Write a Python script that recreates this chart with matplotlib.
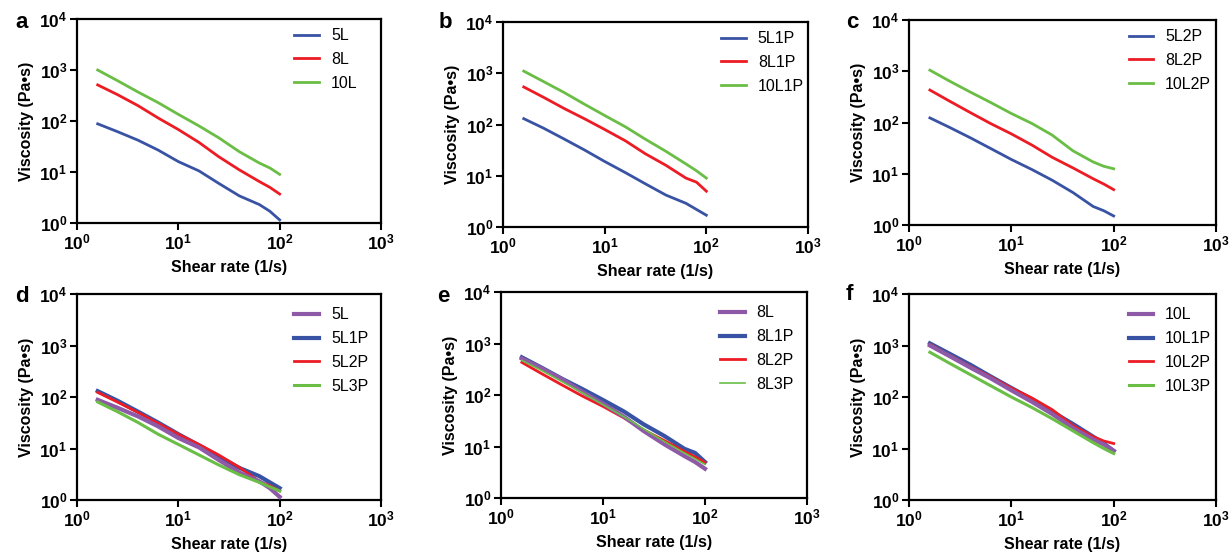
import matplotlib
matplotlib.use('Agg')
import matplotlib.pyplot as plt
from matplotlib.ticker import LogLocator, NullLocator


SHEAR = [1.6, 2.5, 4, 6.3, 10, 16, 25, 40, 63, 80, 100]

# viscosity (Pa.s)
V_5L = [88, 62, 42, 27, 16, 10.5, 6, 3.4, 2.3, 1.7, 1.15]
V_8L = [510, 330, 200, 115, 68, 38, 20, 11, 6.5, 5, 3.7]
V_10L = [1000, 620, 370, 230, 135, 80, 47, 25, 15, 12, 9]

V_5L1P = [130, 85, 52, 32, 19, 11.5, 7, 4.2, 2.9, 2.2, 1.7]
V_8L1P = [540, 340, 205, 130, 80, 48, 27, 16, 9, 7.5, 5]
V_10L1P = [1100, 690, 420, 250, 150, 90, 52, 30, 17, 12.5, 9]

V_5L2P = [123, 80, 50, 31, 19, 12, 7.5, 4.3, 2.3, 1.9, 1.5]
V_8L2P = [430, 260, 155, 95, 60, 36, 21, 13, 8, 6.3, 4.9]
V_10L2P = [1050, 640, 390, 245, 150, 95, 57, 28, 17, 14, 12.5]

V_5L3P = [80, 52, 32, 19, 12, 7.5, 4.8, 3.1, 2.2, 1.8, 1.5]
V_8L3P = [470, 300, 180, 110, 65, 38, 22, 12.5, 7.5, 5.8, 4.5]
V_10L3P = [740, 450, 270, 165, 100, 62, 38, 22, 13, 10, 8]

BLUE = '#3953a4'
RED = '#ed1c24'
GREEN = '#6abd45'
PURPLE = '#8e5aa8'

W, H = 1229, 552

plt.rcParams['font.family'] = ['Liberation Sans', 'DejaVu Sans']
plt.rcParams['font.weight'] = 'bold'
plt.rcParams['axes.labelweight'] = 'bold'


def px_box(left, top, right, bottom):
    return [left / W, (H - bottom) / H, (right - left) / W, (bottom - top) / H]


def style_axes(ax):
    ax.set_xscale('log')
    ax.set_yscale('log')
    ax.set_xlim(1, 1000)
    ax.set_ylim(1, 10000)
    ax.xaxis.set_major_locator(LogLocator(base=10, numticks=10))
    ax.yaxis.set_major_locator(LogLocator(base=10, numticks=10))
    ax.xaxis.set_minor_locator(NullLocator())
    ax.yaxis.set_minor_locator(NullLocator())
    for s in ax.spines.values():
        s.set_linewidth(1.6)
    ax.tick_params(direction='out', length=5, width=1.5, labelsize=12.5, pad=2)
    for lbl in ax.get_xticklabels() + ax.get_yticklabels():
        lbl.set_fontweight('bold')
    ax.set_xlabel('Shear rate (1/s)', fontsize=11.5, labelpad=5)
    ax.set_ylabel('Viscosity (Pa•s)', fontsize=11.5, labelpad=4)


def add_legend(ax, top=0.955):
    ax.legend(loc='upper left', bbox_to_anchor=(0.715, top), frameon=False,
              borderpad=0, borderaxespad=0, handlelength=1.55,
              handletextpad=0.75, labelspacing=0.55,
              prop={'size': 11.5, 'weight': 'normal'})


fig = plt.figure(figsize=(W / 100, H / 100), dpi=100)

# top row: concentration series
top_panels = [
    ('a', px_box(77, 19, 381, 223), (22, 23),
     [('5L', V_5L), ('8L', V_8L), ('10L', V_10L)]),
    ('b', px_box(503, 22, 808, 227), (445, 22),
     [('5L1P', V_5L1P), ('8L1P', V_8L1P), ('10L1P', V_10L1P)]),
    ('c', px_box(909, 20, 1216, 225), (852, 22),
     [('5L2P', V_5L2P), ('8L2P', V_8L2P), ('10L2P', V_10L2P)]),
]

for letter, box, lpos, series in top_panels:
    ax = fig.add_axes(box)
    for (name, vals), c in zip(series, [BLUE, RED, GREEN]):
        ax.plot(SHEAR, vals, color=c, lw=2.0, label=name)
    style_axes(ax)
    add_legend(ax)
    fig.text(lpos[0] / W, 1 - lpos[1] / H, letter, fontsize=16,
             fontweight='bold', ha='center', va='center')

# bottom row: P content series
bottom_panels = [
    ('d', px_box(77, 294, 381, 500), (22, 296),
     [('5L', V_5L), ('5L1P', V_5L1P), ('5L2P', V_5L2P), ('5L3P', V_5L3P)], 2.2),
    ('e', px_box(501, 292, 807, 498), (443, 296),
     [('8L', V_8L), ('8L1P', V_8L1P), ('8L2P', V_8L2P), ('8L3P', V_8L3P)], 1.2),
    ('f', px_box(909, 294, 1216, 500), (849, 294),
     [('10L', V_10L), ('10L1P', V_10L1P), ('10L2P', V_10L2P), ('10L3P', V_10L3P)], 2.2),
]

for letter, box, lpos, series, green_lw in bottom_panels:
    ax = fig.add_axes(box)
    colors = [PURPLE, BLUE, RED, GREEN]
    widths = [3.0, 3.0, 2.0, green_lw]
    zorders = [3, 2, 2.5, 4]
    for (name, vals), c, lw, z in zip(series, colors, widths, zorders):
        ax.plot(SHEAR, vals, color=c, lw=lw, label=name, zorder=z)
    style_axes(ax)
    add_legend(ax, top=0.935)
    fig.text(lpos[0] / W, 1 - lpos[1] / H, letter, fontsize=16,
             fontweight='bold', ha='center', va='center')

fig.savefig('out.png', dpi=100)
